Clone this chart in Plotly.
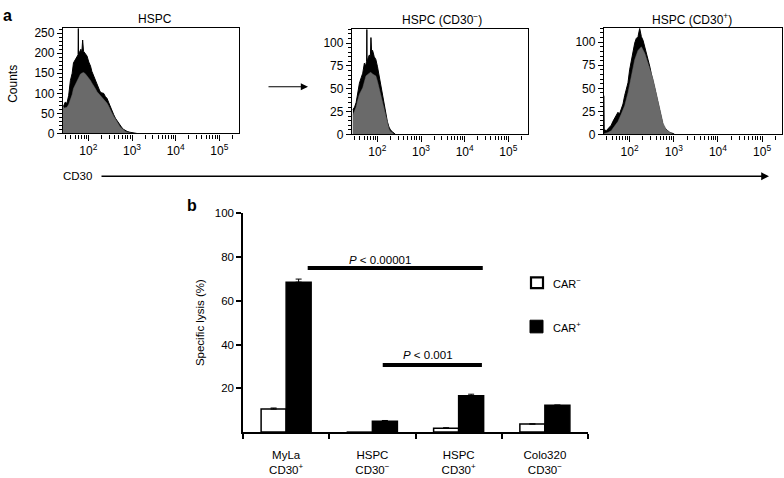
import plotly.graph_objects as go

# ---------------- Panel a: flow histograms (x = log10 CD30 intensity, y = counts)
h1_upper_log = [1.43, 1.47, 1.51, 1.55, 1.59, 1.63, 1.66, 1.70, 1.74, 1.765, 1.771, 1.777, 1.80, 1.83, 1.85, 1.87, 1.89,
                1.93, 1.97, 2.01, 2.05, 2.08, 2.12, 2.16, 2.20, 2.24, 2.27, 2.31, 2.35, 2.39, 2.43, 2.47, 2.50, 2.54,
                2.58, 2.62, 2.66, 2.70, 2.73, 2.77, 2.81, 2.85, 2.89, 2.95, 3.00, 3.06, 3.11]
h1_upper = [67, 78, 75, 95, 132, 150, 176, 185, 193, 196, 262, 198, 203, 210, 200, 233, 205,
            198, 193, 178, 168, 155, 144, 130, 120, 110, 104, 101, 100, 92, 87, 76, 67, 57,
            47, 38, 31, 24, 19, 14, 10, 7, 5, 3, 2, 1, 0]
h1_lower_log = [1.43, 1.51, 1.55, 1.59, 1.63, 1.66, 1.70, 1.74, 1.78, 1.82, 1.86, 1.89, 1.93, 1.97, 2.01, 2.05, 2.08,
                2.12, 2.16, 2.20, 2.24, 2.27, 2.31, 2.35, 2.39, 2.43, 2.47, 2.50, 2.54, 2.58, 2.62, 2.66, 2.70,
                2.73, 2.77, 2.81, 2.85, 2.89, 2.95, 3.00]
h1_lower = [63, 65, 72, 83, 97, 112, 122, 132, 140, 148, 151, 152, 149, 144, 138, 132, 126,
            120, 112, 104, 99, 95, 91, 87, 81, 75, 67, 59, 51, 43, 35, 27, 21,
            16, 12, 8, 5, 3, 1, 0]

h2_upper_log = [1.44, 1.48, 1.515, 1.55, 1.59, 1.63, 1.666, 1.703, 1.73, 1.755, 1.76, 1.765, 1.778, 1.816, 1.84, 1.854,
                1.87, 1.891, 1.929, 1.966, 2.004, 2.04, 2.08, 2.117, 2.154, 2.192, 2.23, 2.267, 2.30, 2.342, 2.38, 2.417]
h2_upper = [27, 30, 35, 45, 56, 62, 67, 78, 75, 80, 115, 80, 82, 87, 84, 106,
            90, 92, 85, 82, 74, 64, 55, 44, 34, 23, 14, 8, 5, 3, 1, 0]
h2_lower_log = [1.44, 1.515, 1.55, 1.59, 1.666, 1.70, 1.74, 1.816, 1.85, 1.891, 1.966, 2.004, 2.04, 2.08, 2.117, 2.154,
                2.192, 2.23, 2.267, 2.30, 2.342, 2.38]
h2_lower = [21, 30, 37, 44, 51, 57, 64, 67, 68, 66, 64, 58, 51, 44, 37, 29, 21, 12, 6, 3, 2, 0]

h3_upper_log = [1.41, 1.418, 1.425, 1.433, 1.47, 1.508, 1.545, 1.584, 1.62, 1.66, 1.70, 1.736, 1.77, 1.81, 1.85, 1.887,
                1.925, 1.963, 2.0, 2.039, 2.077, 2.115, 2.15, 2.19, 2.228, 2.266, 2.304, 2.342, 2.38, 2.418, 2.455,
                2.49, 2.531, 2.57, 2.607, 2.645, 2.683, 2.72, 2.758, 2.796, 2.834, 2.87, 2.91, 2.986, 3.02]
h3_upper = [42, 42, 3, 5, 4, 6, 9, 10, 14, 17, 21, 24, 22, 28, 33, 42,
            48, 56, 70, 81, 92, 99, 104, 106, 115, 106, 102, 95, 88, 83, 74,
            66, 56, 50, 42, 33, 26, 17, 10, 7, 5, 3, 2, 1, 0]
h3_lower_log = [1.41, 1.433, 1.508, 1.584, 1.66, 1.736, 1.81, 1.887, 1.963, 2.039, 2.115, 2.19, 2.266, 2.342, 2.418,
                2.49, 2.531, 2.607, 2.683, 2.758, 2.834, 2.91, 2.986]
h3_lower = [0, 1, 2, 4, 9, 14, 22, 31, 45, 63, 81, 91, 95, 88, 77, 68, 60, 44, 26, 12, 5, 2, 0]

hist_titles = ["HSPC", "HSPC (CD30<sup>−</sup>)", "HSPC (CD30<sup>+</sup>)"]
decade_ticks = [1e2, 1e3, 1e4, 1e5]
decade_labels = ["10<sup>2</sup>", "10<sup>3</sup>", "10<sup>4</sup>", "10<sup>5</sup>"]
minor_x_ticks = [30, 40, 50, 60, 70, 80, 90,
                 200, 300, 400, 500, 600, 700, 800, 900,
                 2000, 3000, 4000, 5000, 6000, 7000, 8000, 9000,
                 20000, 30000, 40000, 50000, 60000, 70000, 80000, 90000, 200000]

# ---------------- Panel b: specific lysis
categories = ["MyLa<br>CD30<sup>+</sup>", "HSPC<br>CD30<sup>−</sup>", "HSPC<br>CD30<sup>+</sup>",
              "Colo320<br>CD30<sup>−</sup>"]
car_neg = [10.5, -0.3, 1.7, 3.7]
car_neg_err = [0.5, 0.0, 0.3, 0.0]
car_pos = [68.5, 5.0, 16.6, 12.3]
car_pos_err = [1.4, 0.3, 0.7, 0.0]
p_labels = ["<i>P</i> < 0.00001", "<i>P</i> < 0.001"]

FONT = "Liberation Sans, Arial, Helvetica, sans-serif"
W, H = 784, 478


def px(x):
    return x / W


def py(y):
    return 1 - y / H


fig = go.Figure()

hist_sets = [
    (h1_upper_log, h1_upper, h1_lower_log, h1_lower),
    (h2_upper_log, h2_upper, h2_lower_log, h2_lower),
    (h3_upper_log, h3_upper, h3_lower_log, h3_lower),
]
for i, (ul, uv, ll, lv) in enumerate(hist_sets):
    ax = "" if i == 0 else str(i + 1)
    fig.add_trace(go.Scatter(x=[10 ** v for v in ul], y=uv, mode="lines", fill="tozeroy",
                             fillcolor="black", line=dict(color="black", width=1),
                             xaxis="x" + ax, yaxis="y" + ax, showlegend=False, hoverinfo="skip"))
    fig.add_trace(go.Scatter(x=[10 ** v for v in ll], y=lv, mode="lines", fill="tozeroy",
                             fillcolor="#6a6a6a", line=dict(color="#6a6a6a", width=0.5),
                             xaxis="x" + ax, yaxis="y" + ax, showlegend=False, hoverinfo="skip"))

# bars (x = category index)
cat_idx = list(range(len(categories)))
fig.add_trace(go.Bar(x=cat_idx, y=car_neg, name="CAR−", marker=dict(color="white", line=dict(color="black", width=1.5)),
                     error_y=dict(type="data", array=car_neg_err, arrayminus=[0] * 4, symmetric=False,
                                  color="black", thickness=1, width=3),
                     xaxis="x4", yaxis="y4", showlegend=False, cliponaxis=False))
fig.add_trace(go.Bar(x=cat_idx, y=car_pos, name="CAR+", marker=dict(color="black", line=dict(color="black", width=1.5)),
                     error_y=dict(type="data", array=car_pos_err, arrayminus=[0] * 4, symmetric=False,
                                  color="black", thickness=1, width=3),
                     xaxis="x4", yaxis="y4", showlegend=False, cliponaxis=False))

hist_x_dom = [[px(63), px(239)], [px(352), px(528)], [px(604), px(782)]]
hist_y_dom = [[py(131), py(23)], [py(132), py(24)], [py(132), py(23)]]
hist_y_range = [[0, 262], [0, 115], [0, 115]]
hist_y_ticks = [[0, 50, 100, 150, 200, 250], [0, 25, 50, 75, 100], [0, 25, 50, 75, 100]]
hist_y_minor = [10, 5, 5]

layout = dict(width=W, height=H, margin=dict(l=0, r=0, t=0, b=0),
              paper_bgcolor="white", plot_bgcolor="white",
              font=dict(family=FONT, color="black", size=11),
              barmode="group", bargap=0.42, bargroupgap=0, showlegend=False)

for i in range(3):
    k = "" if i == 0 else str(i + 1)
    layout["xaxis" + k] = dict(domain=hist_x_dom[i], anchor="y" + k, type="log", range=[1.42, 5.45],
                               tickvals=decade_ticks, ticktext=decade_labels, ticks="outside", ticklen=6,
                               tickwidth=1.3, tickcolor="black", showline=True, mirror=True, linecolor="black",
                               linewidth=1.3, showgrid=False, zeroline=False, tickfont=dict(size=12),
                               minor=dict(tickvals=minor_x_ticks, ticks="outside", ticklen=4, tickcolor="black",
                                          tickwidth=1.1, showgrid=False))
    layout["yaxis" + k] = dict(domain=hist_y_dom[i], anchor="x" + k, range=hist_y_range[i],
                               tickvals=hist_y_ticks[i], ticks="outside", ticklen=5, tickwidth=1.2,
                               tickcolor="black", showline=True, mirror=True, linecolor="black", linewidth=1.3,
                               showgrid=False, zeroline=False, tickfont=dict(size=12),
                               minor=dict(dtick=hist_y_minor[i], tick0=0, ticks="outside", ticklen=3,
                                          tickcolor="black", tickwidth=1, showgrid=False))

# category labels sit under invisible spacer ticks; visible ticks mark the category boundaries
layout["xaxis4"] = dict(domain=[px(243), px(588)], anchor="y4", range=[-0.5, 3.5],
                        tickvals=cat_idx, ticktext=categories, ticks="outside", ticklen=11,
                        tickcolor="rgba(0,0,0,0)",
                        showline=True, linecolor="black", linewidth=1.5, showgrid=False, zeroline=False,
                        tickfont=dict(size=11.5),
                        minor=dict(tickvals=[-0.5, 0.5, 1.5, 2.5, 3.5], ticks="outside", ticklen=5,
                                   tickwidth=1.5, tickcolor="black", showgrid=False))
layout["yaxis4"] = dict(domain=[py(438), py(213)], anchor="x4", range=[0, 100], tickvals=[20, 40, 60, 80, 100],
                        ticks="outside", ticklen=5, tickwidth=1.5, tickcolor="black", showline=True,
                        linecolor="black", linewidth=1.5, showgrid=False, zeroline=False,
                        tickfont=dict(size=11.5),
                        title=dict(text="Specific lysis (%)", font=dict(size=11.5), standoff=8))

fig.update_layout(**layout)

# significance bars
sig_x0 = [0.25, 1.12]
sig_x1 = [2.28, 2.27]
sig_y = [75, 30.7]
sig_text_x = [1.09, 1.64]
sig_text_y = [78.6, 35.3]
for j in range(2):
    fig.add_shape(type="line", xref="x4", yref="y4", x0=sig_x0[j], x1=sig_x1[j], y0=sig_y[j], y1=sig_y[j],
                  line=dict(color="black", width=4))
    fig.add_annotation(xref="x4", yref="y4", x=sig_text_x[j], y=sig_text_y[j], text=p_labels[j],
                       showarrow=False, font=dict(size=11.5), xanchor="center", yanchor="middle")

# legend (manual)
fig.add_shape(type="rect", xref="paper", yref="paper", x0=px(531), x1=px(543), y0=py(290), y1=py(279),
              line=dict(color="black", width=2.2), fillcolor="white")
fig.add_shape(type="rect", xref="paper", yref="paper", x0=px(530), x1=px(543), y0=py(336), y1=py(323),
              line=dict(color="black", width=1), fillcolor="black")
fig.add_annotation(xref="paper", yref="paper", x=px(551), y=py(285), text="CAR<sup>−</sup>", showarrow=False,
                   xanchor="left", yanchor="middle", font=dict(size=11))
fig.add_annotation(xref="paper", yref="paper", x=px(551), y=py(330), text="CAR<sup>+</sup>", showarrow=False,
                   xanchor="left", yanchor="middle", font=dict(size=11))

# histogram titles
title_x = [155, 442, 692]
for i in range(3):
    fig.add_annotation(xref="paper", yref="paper", x=px(title_x[i]), y=py(13), text=hist_titles[i],
                       showarrow=False, xanchor="center", yanchor="middle", font=dict(size=12))

# panel letters and labels
fig.add_annotation(xref="paper", yref="paper", x=px(1), y=py(10), text="<b>a</b>", showarrow=False,
                   xanchor="left", yanchor="middle", font=dict(size=16))
fig.add_annotation(xref="paper", yref="paper", x=px(185), y=py(205), text="<b>b</b>", showarrow=False,
                   xanchor="left", yanchor="middle", font=dict(size=16))
fig.add_annotation(xref="paper", yref="paper", x=px(13), y=py(80), text="Counts", textangle=-90,
                   showarrow=False, xanchor="center", yanchor="middle", font=dict(size=12))
fig.add_annotation(xref="paper", yref="paper", x=px(61), y=py(175), text="CD30", showarrow=False,
                   xanchor="left", yanchor="middle", font=dict(size=11.5))

# arrows
fig.add_annotation(xref="paper", yref="paper", axref="pixel", ayref="pixel", x=px(769), y=py(175),
                   ax=-(769 - 100), ay=0, text="", showarrow=True, arrowhead=2, arrowsize=1.2,
                   arrowwidth=1.3, arrowcolor="black")
fig.add_annotation(xref="paper", yref="paper", axref="pixel", ayref="pixel", x=px(308), y=py(83),
                   ax=-(308 - 267), ay=0, text="", showarrow=True, arrowhead=2, arrowsize=1.2,
                   arrowwidth=1.2, arrowcolor="black")

fig.write_html("out.html", config={"displayModeBar": False},
               post_script="document.body.style.margin='0';")
